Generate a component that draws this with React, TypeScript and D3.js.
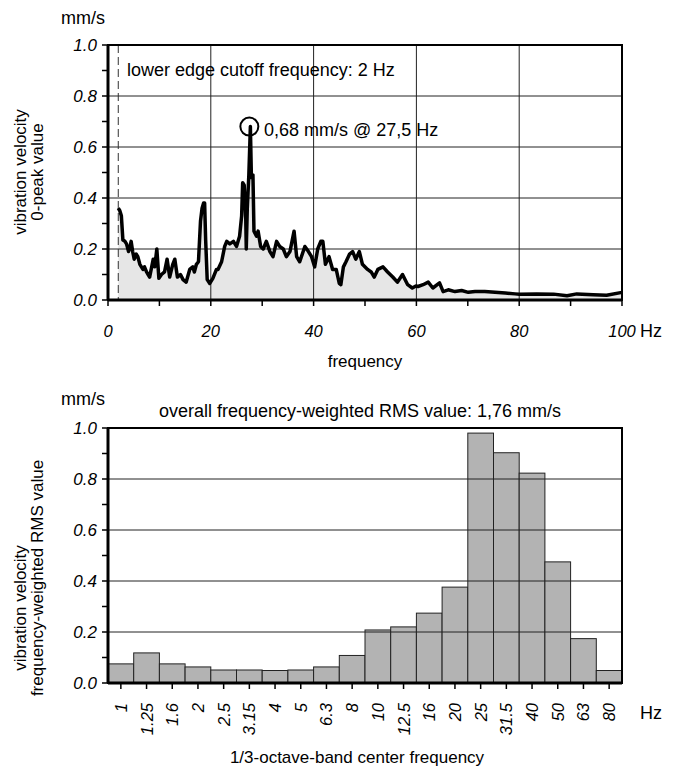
import React, { useEffect, useRef } from 'react'
import * as d3 from 'd3'

// spectrum (Hz, mm/s)
const spectrumFreq = [
  2.0, 2.3, 2.6, 2.9, 3.3, 3.6, 4.0, 4.3, 4.5, 4.8, 5.1, 5.5, 5.8, 6.2, 6.5, 6.8, 7.1, 7.5, 7.8, 8.1,
  8.5, 8.8, 9.1, 9.5, 9.9, 10.4, 11.0, 11.5, 12.0, 12.6, 13.0, 13.5, 14.1, 14.6, 15.2, 15.9, 16.5, 16.8,
  17.2, 17.6, 18.0, 18.3, 18.6, 18.8, 19.0, 19.3, 19.8, 20.4, 21.1, 21.4, 22.1, 22.7, 23.1, 23.7, 24.4,
  25.0, 25.6, 26.0, 26.2, 26.5, 26.8, 26.9, 27.1, 27.4, 27.7, 27.9, 28.2, 28.4, 28.9, 29.2, 29.7, 30.2,
  30.8, 31.5, 32.1, 32.8, 33.4, 34.1, 34.7, 35.4, 36.2, 36.7, 37.3, 38.3, 39.0, 39.6, 40.2, 40.8, 41.4,
  41.8, 42.3, 43.0, 43.7, 44.4, 45.0, 45.3, 45.8, 46.3, 47.0, 47.6, 48.2, 48.9, 49.5, 50.5, 51.2, 51.8,
  52.5, 53.5, 54.4, 55.4, 56.3, 57.3, 58.3, 59.2, 59.9, 60.3, 61.3, 62.3, 63.2, 64.5, 65.2, 66.2, 67.5,
  68.8, 70.1, 71.4, 73.3, 75.3, 77.3, 79.2, 80.0, 83.4, 86.7, 89.3, 91.2, 94.4, 97.0, 100,
]
const spectrumVel = [
  0.36, 0.35, 0.33, 0.235, 0.23, 0.22, 0.19, 0.21, 0.23, 0.19, 0.16, 0.18, 0.17, 0.14, 0.13, 0.12, 0.13, 0.11, 0.1, 0.09,
  0.13, 0.16, 0.13, 0.2, 0.085, 0.1, 0.11, 0.16, 0.09, 0.14, 0.16, 0.09, 0.1, 0.08, 0.07, 0.12, 0.13, 0.11,
  0.14, 0.15, 0.31, 0.36, 0.38, 0.38, 0.235, 0.08, 0.065, 0.085, 0.12, 0.12, 0.15, 0.21, 0.23, 0.22, 0.23,
  0.21, 0.25, 0.33, 0.46, 0.45, 0.32, 0.2, 0.36, 0.49, 0.68, 0.48, 0.49, 0.27, 0.25, 0.27, 0.21, 0.2,
  0.23, 0.19, 0.17, 0.23, 0.21, 0.2, 0.17, 0.19, 0.27, 0.17, 0.15, 0.21, 0.19, 0.17, 0.13, 0.2, 0.23,
  0.23, 0.14, 0.17, 0.12, 0.12, 0.065, 0.06, 0.13, 0.15, 0.18, 0.19, 0.16, 0.19, 0.14, 0.12, 0.11, 0.09,
  0.12, 0.13, 0.11, 0.09, 0.07, 0.1, 0.06, 0.047, 0.055, 0.053, 0.06, 0.07, 0.047, 0.067, 0.033, 0.04, 0.033,
  0.037, 0.03, 0.033, 0.033, 0.03, 0.027, 0.024, 0.023, 0.024, 0.023, 0.017, 0.024, 0.021, 0.019, 0.03,
]
const cutoffFreq = 2
const peakFreq = 27.5
const peakVel = 0.68

// 1/3-octave bands
const bandLabels = [
  '1', '1.25', '1.6', '2', '2.5', '3.15', '4', '5', '6.3', '8',
  '10', '12.5', '16', '20', '25', '31.5', '40', '50', '63', '80',
]
const bandRms = [
  0.075, 0.118, 0.075, 0.063, 0.051, 0.051, 0.049, 0.051, 0.063, 0.108,
  0.208, 0.22, 0.274, 0.376, 0.98, 0.903, 0.823, 0.475, 0.174, 0.049,
]

const yTicks = [0, 0.2, 0.4, 0.6, 0.8, 1.0]
const yMinorTicks = d3.range(0, 1.01, 0.1)
const xTicksTop = [0, 20, 40, 60, 80, 100]

const FONT = '"Liberation Sans", Arial, sans-serif'

function App() {
  const ref = useRef(null)

  useEffect(() => {
    const svg = d3.select(ref.current)
    svg.selectAll('*').remove()

    const left = 108
    const right = 622

    // ---------- upper chart ----------
    const x = d3.scaleLinear().domain([0, 100]).range([left, right])
    const y = d3.scaleLinear().domain([0, 1]).range([300, 45])
    const top = svg.append('g')

    const pts = spectrumFreq.map((f, i) => [f, spectrumVel[i]])
    const area = d3
      .area()
      .x((d) => x(d[0]))
      .y0(y(0))
      .y1((d) => y(d[1]))
    top.append('path').datum(pts).attr('fill', '#e6e6e6').attr('d', area)

    // grid
    ;[0.2, 0.4, 0.6, 0.8].forEach((t) => {
      top.append('line').attr('x1', left).attr('x2', right).attr('y1', y(t)).attr('y2', y(t)).attr('stroke', '#222').attr('stroke-width', 1)
    })
    ;[20, 40, 60, 80].forEach((t) => {
      top.append('line').attr('x1', x(t)).attr('x2', x(t)).attr('y1', y(0)).attr('y2', y(1)).attr('stroke', '#222').attr('stroke-width', 1)
    })

    // cutoff marker
    top
      .append('line')
      .attr('x1', x(cutoffFreq))
      .attr('x2', x(cutoffFreq))
      .attr('y1', y(1))
      .attr('y2', y(0))
      .attr('stroke', '#333')
      .attr('stroke-dasharray', '8 4')

    const line = d3
      .line()
      .x((d) => x(d[0]))
      .y((d) => y(d[1]))
    top
      .append('path')
      .datum(pts)
      .attr('fill', 'none')
      .attr('stroke', '#000')
      .attr('stroke-width', 3.5)
      .attr('stroke-linejoin', 'round')
      .attr('d', line)

    // frame
    top.append('rect').attr('x', left).attr('y', y(1)).attr('width', right - left).attr('height', y(0) - y(1)).attr('fill', 'none').attr('stroke', '#000').attr('stroke-width', 2)
    top.append('line').attr('x1', left).attr('x2', left).attr('y1', y(1)).attr('y2', y(0)).attr('stroke', '#000').attr('stroke-width', 3)
    top.append('line').attr('x1', left).attr('x2', right).attr('y1', y(0)).attr('y2', y(0)).attr('stroke', '#000').attr('stroke-width', 3)

    // y ticks
    yMinorTicks.forEach((t) => {
      top.append('line').attr('x1', left - 6).attr('x2', left).attr('y1', y(t)).attr('y2', y(t)).attr('stroke', '#000').attr('stroke-width', 1.5)
    })
    yTicks.forEach((t) => {
      top
        .append('text')
        .attr('x', 97)
        .attr('y', y(t) + 6)
        .attr('text-anchor', 'end')
        .attr('font-style', 'italic')
        .attr('font-size', 17)
        .text(t.toFixed(1))
    })
    // x ticks
    d3.range(0, 101, 10).forEach((t) => {
      top.append('line').attr('x1', x(t)).attr('x2', x(t)).attr('y1', y(0)).attr('y2', y(0) + 6).attr('stroke', '#000').attr('stroke-width', 1.5)
    })
    xTicksTop.forEach((t) => {
      top.append('text').attr('x', x(t)).attr('y', 337).attr('text-anchor', 'middle').attr('font-style', 'italic').attr('font-size', 16.5).text(t)
    })
    top.append('text').attr('x', 640).attr('y', 337).attr('font-size', 18).text('Hz')
    top.append('text').attr('x', 365).attr('y', 367).attr('text-anchor', 'middle').attr('font-size', 17).text('frequency')
    top.append('text').attr('x', 61).attr('y', 24).attr('font-size', 18).text('mm/s')

    const ttl = top.append('text').attr('transform', 'translate(26,172) rotate(-90)').attr('text-anchor', 'middle').attr('font-size', 17)
    ttl.append('tspan').attr('x', 0).attr('y', 0).text('vibration velocity')
    ttl.append('tspan').attr('x', 0).attr('y', 17).text('0-peak value')

    top.append('text').attr('x', 127).attr('y', 76).attr('font-size', 18).text('lower edge cutoff frequency: 2 Hz')
    top.append('circle').attr('cx', x(peakFreq)).attr('cy', y(peakVel)).attr('r', 9).attr('fill', 'none').attr('stroke', '#000').attr('stroke-width', 2)
    top.append('text').attr('x', 264).attr('y', 136).attr('font-size', 18).text('0,68 mm/s @ 27,5 Hz')

    // ---------- lower chart ----------
    const xb = d3.scaleBand().domain(bandLabels).range([left, right]).padding(0)
    const yb = d3.scaleLinear().domain([0, 1]).range([683, 428])
    const bot = svg.append('g')

    bot
      .selectAll('rect.bar')
      .data(bandLabels)
      .enter()
      .append('rect')
      .attr('class', 'bar')
      .attr('x', (d) => xb(d))
      .attr('width', xb.bandwidth())
      .attr('y', (d, i) => yb(bandRms[i]))
      .attr('height', (d, i) => yb(0) - yb(bandRms[i]))
      .attr('fill', '#b3b3b3')
      .attr('stroke', '#222')
      .attr('stroke-width', 1)

    // grid lines run across the bars too
    ;[0.2, 0.4, 0.6, 0.8].forEach((t) => {
      bot.append('line').attr('x1', left).attr('x2', right).attr('y1', yb(t)).attr('y2', yb(t)).attr('stroke', '#222').attr('stroke-width', 1)
    })

    bot.append('rect').attr('x', left).attr('y', yb(1)).attr('width', right - left).attr('height', yb(0) - yb(1)).attr('fill', 'none').attr('stroke', '#000').attr('stroke-width', 2)
    bot.append('line').attr('x1', left).attr('x2', left).attr('y1', yb(1)).attr('y2', yb(0)).attr('stroke', '#000').attr('stroke-width', 3)
    bot.append('line').attr('x1', left).attr('x2', right).attr('y1', yb(0)).attr('y2', yb(0)).attr('stroke', '#000').attr('stroke-width', 3)

    yMinorTicks.forEach((t) => {
      bot.append('line').attr('x1', left - 6).attr('x2', left).attr('y1', yb(t)).attr('y2', yb(t)).attr('stroke', '#000').attr('stroke-width', 1.5)
    })
    yTicks.forEach((t) => {
      bot
        .append('text')
        .attr('x', 97)
        .attr('y', yb(t) + 6)
        .attr('text-anchor', 'end')
        .attr('font-style', 'italic')
        .attr('font-size', 17)
        .text(t.toFixed(1))
    })
    bandLabels.forEach((d) => {
      const cx = xb(d) + xb.bandwidth() / 2
      bot.append('line').attr('x1', cx).attr('x2', cx).attr('y1', yb(0)).attr('y2', yb(0) + 6).attr('stroke', '#000').attr('stroke-width', 1.5)
      bot
        .append('text')
        .attr('transform', `translate(${cx + 6},703) rotate(-90)`)
        .attr('text-anchor', 'end')
        .attr('font-style', 'italic')
        .attr('font-size', 16.5)
        .text(d)
    })
    bot.append('text').attr('x', 640).attr('y', 719).attr('font-size', 18).text('Hz')
    bot.append('text').attr('x', 357).attr('y', 763).attr('text-anchor', 'middle').attr('font-size', 17).text('1/3-octave-band center frequency')
    bot.append('text').attr('x', 61).attr('y', 405).attr('font-size', 18).text('mm/s')
    bot.append('text').attr('x', 360).attr('y', 417).attr('text-anchor', 'middle').attr('font-size', 18).text('overall frequency-weighted RMS value: 1,76 mm/s')

    bot
      .append('text')
      .attr('transform', 'translate(26,608) rotate(-90)')
      .attr('text-anchor', 'middle')
      .attr('font-size', 17)
      .text('vibration velocity')
    bot
      .append('text')
      .attr('transform', 'translate(43,578) rotate(-90)')
      .attr('text-anchor', 'middle')
      .attr('font-size', 17)
      .text('frequency-weighted RMS value')
  }, [])

  return (
    <svg
      ref={ref}
      width={673}
      height={770}
      style={{ position: 'absolute', left: 0, top: 0, background: '#fff', fontFamily: FONT }}
    />
  )
}

export default App
